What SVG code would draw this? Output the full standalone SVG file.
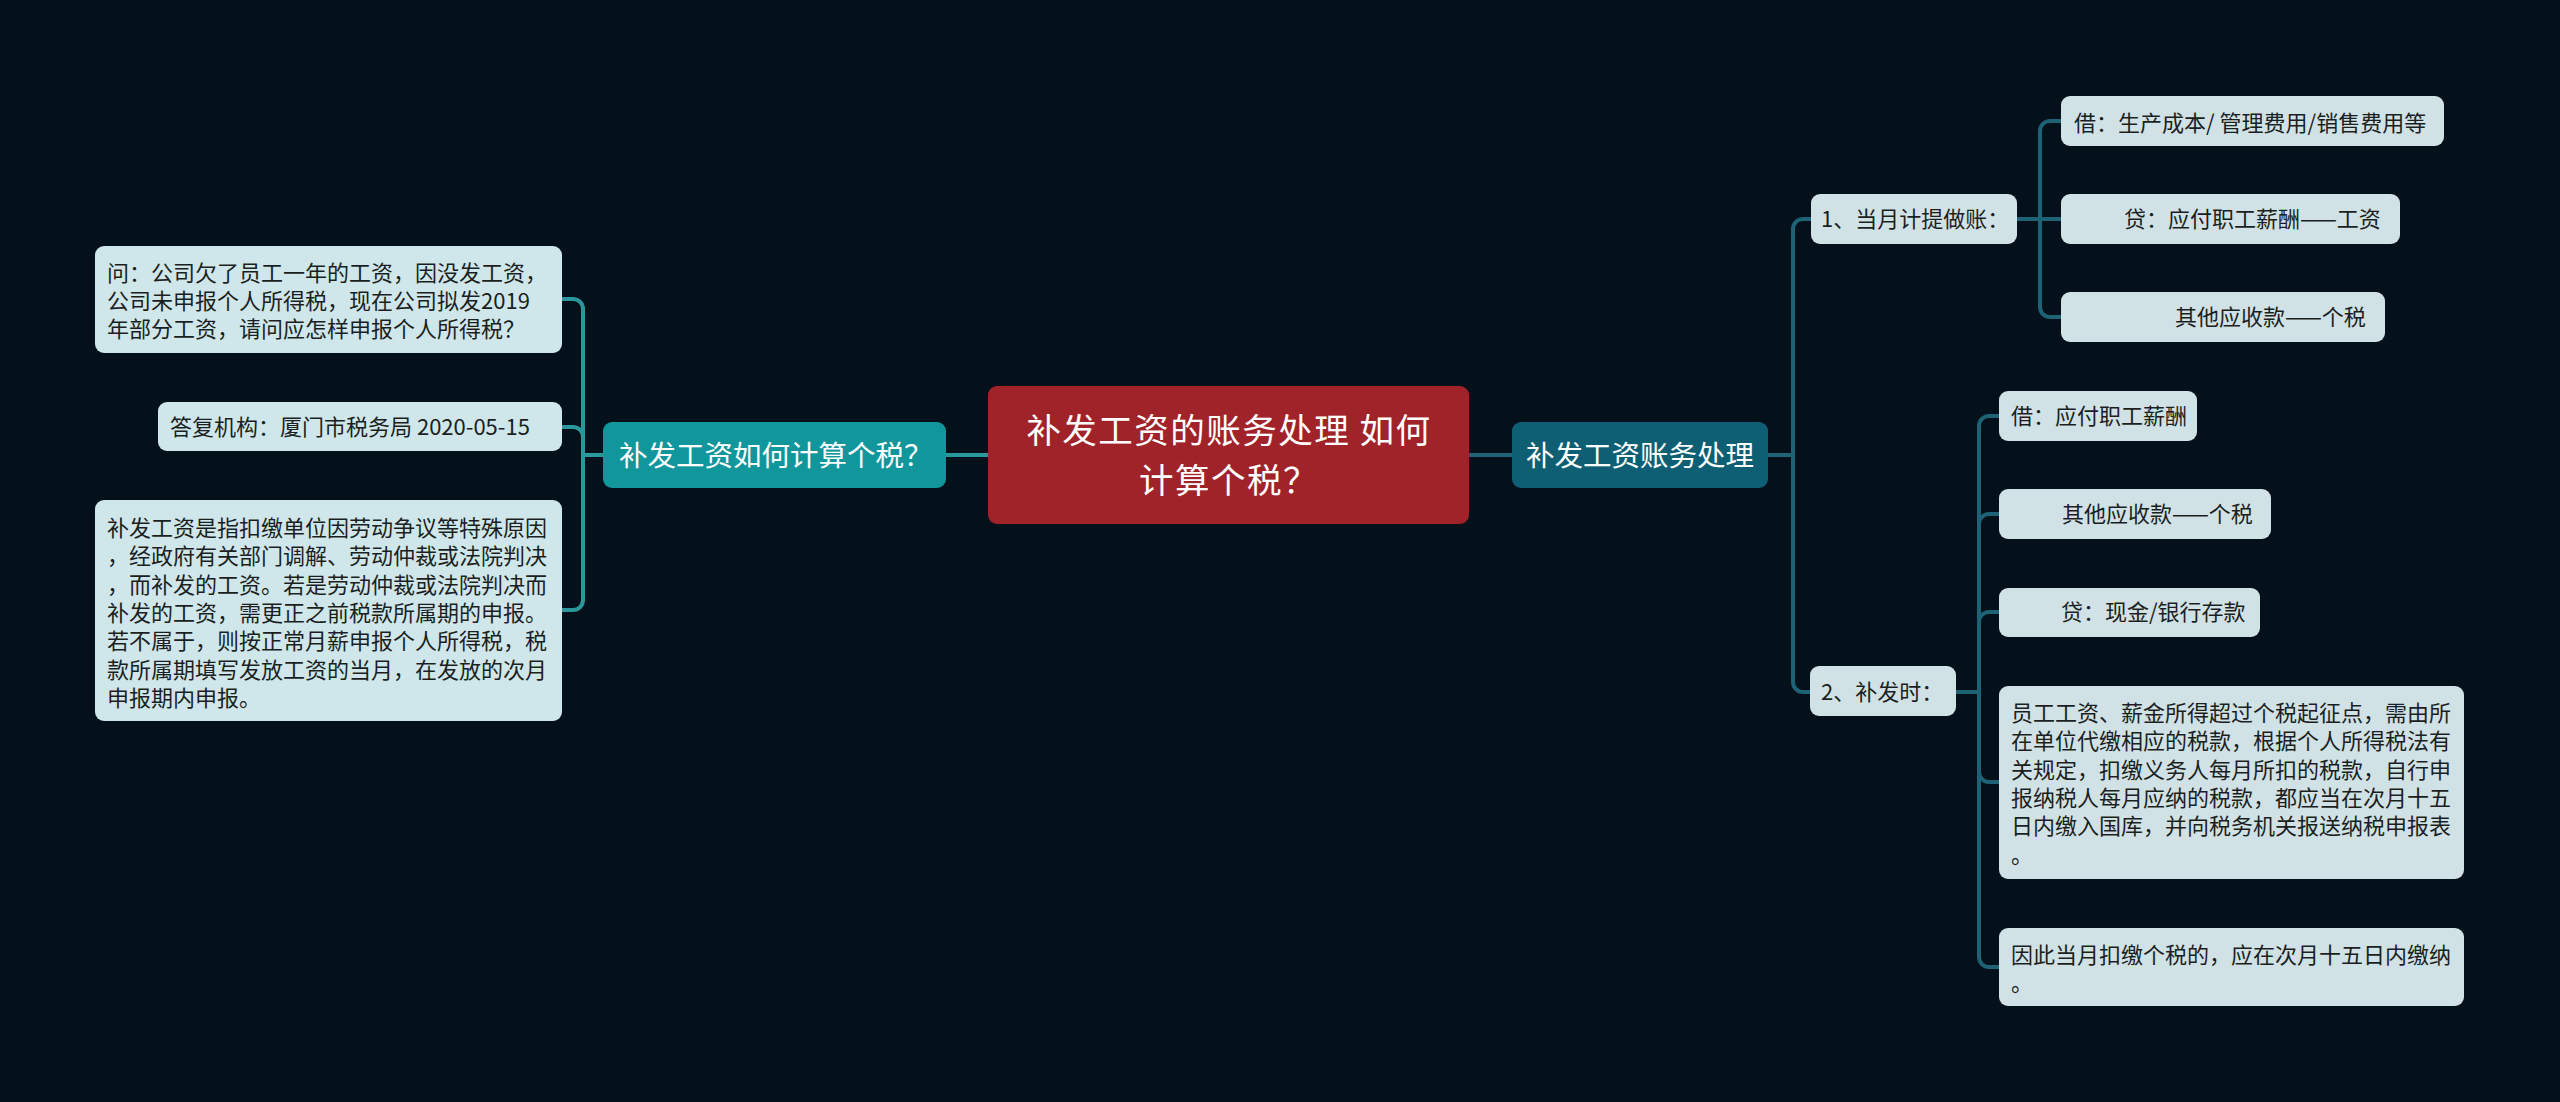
<svg xmlns="http://www.w3.org/2000/svg" width="2560" height="1102" viewBox="0 0 2560 1102">
<style>
text{font-family:"Noto Sans CJK SC","Noto Sans",sans-serif}
.leaf{font-size:22px;fill:#1b1f22}
.l1{font-size:28.5px;fill:#ffffff}
.root{font-size:34.5px;fill:#ffffff;letter-spacing:1.5px}
.lbox{fill:#cfe7ea}
.rbox{fill:#d1e2e6}
.cl{fill:none;stroke:#2a979a;stroke-width:4}
.cr{fill:none;stroke:#1d6275;stroke-width:4}
</style>
<rect width="2560" height="1102" fill="#04111a"/>
<g id="connectors">
<path class="cl" d="M946,455 H988"/>
<path class="cl" d="M603,455 H583"/>
<path class="cl" d="M583,455 V309 A10,10 0 0 0 573,299 H562"/>
<path class="cl" d="M583,455 V437 A10,10 0 0 0 573,427 H562"/>
<path class="cl" d="M583,455 V600 A10,10 0 0 1 573,610 H562"/>
<path class="cr" d="M1469,455 H1512"/>
<path class="cr" d="M1768,455 H1793"/>
<path class="cr" d="M1793,455 V229 A10,10 0 0 1 1803,219 H1811"/>
<path class="cr" d="M1793,455 V682 A10,10 0 0 0 1803,692 H1810"/>
<path class="cr" d="M2017,219 H2040"/>
<path class="cr" d="M2040,219 V131 A10,10 0 0 1 2050,121 H2061"/>
<path class="cr" d="M2040,219 H2061"/>
<path class="cr" d="M2040,219 V307 A10,10 0 0 0 2050,317 H2061"/>
<path class="cr" d="M1956,692 H1979"/>
<path class="cr" d="M1979,692 V426 A10,10 0 0 1 1989,416 H1999"/>
<path class="cr" d="M1979,692 V524 A10,10 0 0 1 1989,514 H1999"/>
<path class="cr" d="M1979,692 V622 A10,10 0 0 1 1989,612 H1999"/>
<path class="cr" d="M1979,692 V772 A10,10 0 0 0 1989,782 H1999"/>
<path class="cr" d="M1979,692 V957 A10,10 0 0 0 1989,967 H1999"/>
</g>
<g id="root">
<rect x="988" y="386" width="481" height="138" rx="9" fill="#a1232a"/>
<text class="root" text-anchor="middle"><tspan x="1229" y="443">补发工资的账务处理 如何</tspan><tspan x="1229" y="493">计算个税？</tspan></text>
</g>
<g id="left-main">
<rect x="603" y="422" width="343" height="66" rx="9" fill="#11969b"/>
<text class="l1" x="619" y="466">补发工资如何计算个税？</text>
</g>
<g id="left-q">
<rect class="lbox" x="95" y="246" width="467" height="107" rx="9"/>
<text class="leaf"><tspan x="107" y="281">问：公司欠了员工一年的工资，因没发工资，</tspan><tspan x="107" y="309">公司未申报个人所得税，现在公司拟发2019</tspan><tspan x="107" y="337">年部分工资，请问应怎样申报个人所得税？</tspan></text>
</g>
<g id="left-org">
<rect class="lbox" x="158" y="402" width="404" height="49" rx="9"/>
<text class="leaf" x="170" y="435">答复机构：厦门市税务局 2020-05-15</text>
</g>
<g id="left-def">
<rect class="lbox" x="95" y="500" width="467" height="221" rx="9"/>
<text class="leaf"><tspan x="107" y="536">补发工资是指扣缴单位因劳动争议等特殊原因</tspan><tspan x="107" y="564.3">，经政府有关部门调解、劳动仲裁或法院判决</tspan><tspan x="107" y="592.6">，而补发的工资。若是劳动仲裁或法院判决而</tspan><tspan x="107" y="620.9">补发的工资，需更正之前税款所属期的申报。</tspan><tspan x="107" y="649.2">若不属于，则按正常月薪申报个人所得税，税</tspan><tspan x="107" y="677.5">款所属期填写发放工资的当月，在发放的次月</tspan><tspan x="107" y="705.8">申报期内申报。</tspan></text>
</g>
<g id="right-main">
<rect x="1512" y="422" width="256" height="66" rx="9" fill="#0e5f74"/>
<text class="l1" x="1640" y="466" text-anchor="middle">补发工资账务处理</text>
</g>
<g id="r-month">
<rect class="rbox" x="1811" y="194" width="206" height="50" rx="9"/>
<text class="leaf" x="1821" y="227">1、当月计提做账：</text>
</g>
<g id="r-m1">
<rect class="rbox" x="2061" y="96" width="383" height="50" rx="9"/>
<text class="leaf" x="2074" y="131">借：生产成本/ 管理费用/销售费用等</text>
</g>
<g id="r-m2">
<rect class="rbox" x="2061" y="194" width="339" height="50" rx="9"/>
<text class="leaf" x="2124" y="227">贷：应付职工薪酬——工资</text>
</g>
<g id="r-m3">
<rect class="rbox" x="2061" y="292" width="324" height="50" rx="9"/>
<text class="leaf" x="2175" y="325">其他应收款——个税</text>
</g>
<g id="r-pay">
<rect class="rbox" x="1810" y="666" width="146" height="50" rx="9"/>
<text class="leaf" x="1821" y="700">2、补发时：</text>
</g>
<g id="r-p1">
<rect class="rbox" x="1999" y="391" width="198" height="50" rx="9"/>
<text class="leaf" x="2011" y="424">借：应付职工薪酬</text>
</g>
<g id="r-p2">
<rect class="rbox" x="1999" y="489" width="272" height="50" rx="9"/>
<text class="leaf" x="2062" y="522">其他应收款——个税</text>
</g>
<g id="r-p3">
<rect class="rbox" x="1999" y="588" width="261" height="49" rx="9"/>
<text class="leaf" x="2061" y="620">贷：现金/银行存款</text>
</g>
<g id="r-p4">
<rect class="rbox" x="1999" y="686" width="465" height="193" rx="9"/>
<text class="leaf"><tspan x="2011" y="721">员工工资、薪金所得超过个税起征点，需由所</tspan><tspan x="2011" y="749.3">在单位代缴相应的税款，根据个人所得税法有</tspan><tspan x="2011" y="777.6">关规定，扣缴义务人每月所扣的税款，自行申</tspan><tspan x="2011" y="805.9">报纳税人每月应纳的税款，都应当在次月十五</tspan><tspan x="2011" y="834.2">日内缴入国库，并向税务机关报送纳税申报表</tspan><tspan x="2011" y="862.5">。</tspan></text>
</g>
<g id="r-p5">
<rect class="rbox" x="1999" y="928" width="465" height="78" rx="9"/>
<text class="leaf"><tspan x="2011" y="963">因此当月扣缴个税的，应在次月十五日内缴纳</tspan><tspan x="2011" y="991.3">。</tspan></text>
</g>
</svg>
